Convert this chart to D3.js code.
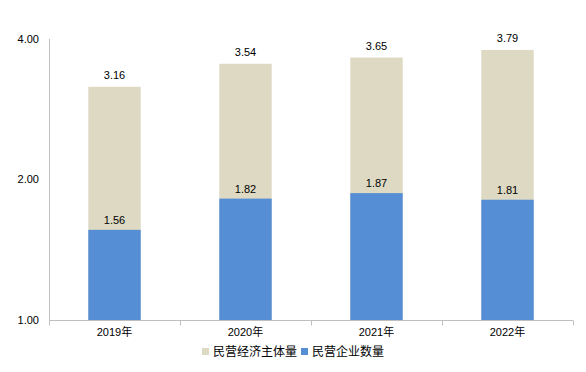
<!DOCTYPE html>
<meta charset="utf-8">
<title>民营经济</title>
<style>
body { margin: 0; background: #fff; }
text { font-family: "Liberation Sans", "Noto Sans CJK SC", sans-serif; fill: #000; }
</style>
<svg width="586" height="372"></svg>
<script src="https://d3js.org/d3.v7.min.js"></script>
<script>

var years = ["2019年", "2020年", "2021年", "2022年"];
var totalSubjects = [3.16, 3.54, 3.65, 3.79];   // 民营经济主体量
var enterprises = [1.56, 1.82, 1.87, 1.81];     // 民营企业数量
var yTicks = [1, 2, 4];
var seriesNames = ["民营经济主体量", "民营企业数量"];
var colors = ["#ddd9c3", "#558ed5"];

var svg = d3.select("svg");
var mLeft = 49, mRight = 573, mTop = 39, mBottom = 320;

var x = d3.scaleBand().domain(years).range([mLeft, mRight]).paddingInner(0).paddingOuter(0);
var y = d3.scaleLog().base(2).domain([1, 4]).range([mBottom, mTop]);
var barW = x.bandwidth() * 0.4;

// y axis line + labels
svg.append("line")
  .attr("x1", mLeft + 0.5).attr("x2", mLeft + 0.5).attr("y1", mTop).attr("y2", mBottom)
  .attr("stroke", "#bfbfbf");

svg.selectAll(".ylab").data(yTicks).enter().append("text")
  .attr("class", "ylab")
  .attr("x", mLeft - 10).attr("y", d => y(d)).attr("dy", "0.35em")
  .attr("text-anchor", "end").style("font-size", "11px")
  .text(d => d.toFixed(2));

// bars: total in back, blue overlaid
var g = svg.selectAll(".yr").data(years).enter().append("g").attr("class", "yr");

g.append("rect")
  .attr("x", d => x(d) + x.bandwidth() / 2 - barW / 2)
  .attr("width", barW)
  .attr("y", (d, i) => y(totalSubjects[i]))
  .attr("height", (d, i) => y(1) - y(totalSubjects[i]))
  .attr("fill", colors[0]);

g.append("rect")
  .attr("x", d => x(d) + x.bandwidth() / 2 - barW / 2)
  .attr("width", barW)
  .attr("y", (d, i) => y(enterprises[i]))
  .attr("height", (d, i) => y(1) - y(enterprises[i]))
  .attr("fill", colors[1]);

g.append("text")
  .attr("x", d => x(d) + x.bandwidth() / 2)
  .attr("y", (d, i) => y(totalSubjects[i]) - 8)
  .attr("text-anchor", "middle").style("font-size", "11px")
  .text((d, i) => totalSubjects[i].toFixed(2));

g.append("text")
  .attr("x", d => x(d) + x.bandwidth() / 2)
  .attr("y", (d, i) => y(enterprises[i]) - 6)
  .attr("text-anchor", "middle").style("font-size", "11px")
  .text((d, i) => enterprises[i].toFixed(2));

// x axis
var xAxis = svg.append("g")
  .attr("transform", "translate(0," + (mBottom + 0.5) + ")");
xAxis.append("line").attr("x1", mLeft).attr("x2", mRight).attr("stroke", "#bfbfbf");
xAxis.selectAll(".tk").data(d3.range(years.length + 1)).enter().append("line")
  .attr("x1", i => Math.round(mLeft + i * x.step()) + 0.5)
  .attr("x2", i => Math.round(mLeft + i * x.step()) + 0.5)
  .attr("y1", 0).attr("y2", 5).attr("stroke", "#bfbfbf");
xAxis.selectAll("text").data(years).enter().append("text")
  .attr("x", d => x(d) + x.bandwidth() / 2).attr("y", 15)
  .attr("text-anchor", "middle").style("font-size", "11px")
  .text(d => d);

// legend
var legend = svg.append("g").attr("transform", "translate(202,352)");
var lx = [0, 99];
seriesNames.forEach(function(name, i) {
  legend.append("rect").attr("x", lx[i]).attr("y", -4).attr("width", 7).attr("height", 7)
    .attr("fill", colors[i]);
  legend.append("text").attr("x", lx[i] + 11).attr("y", 0).attr("dy", "0.35em")
    .style("font-size", "12px").text(name);
});

</script>
